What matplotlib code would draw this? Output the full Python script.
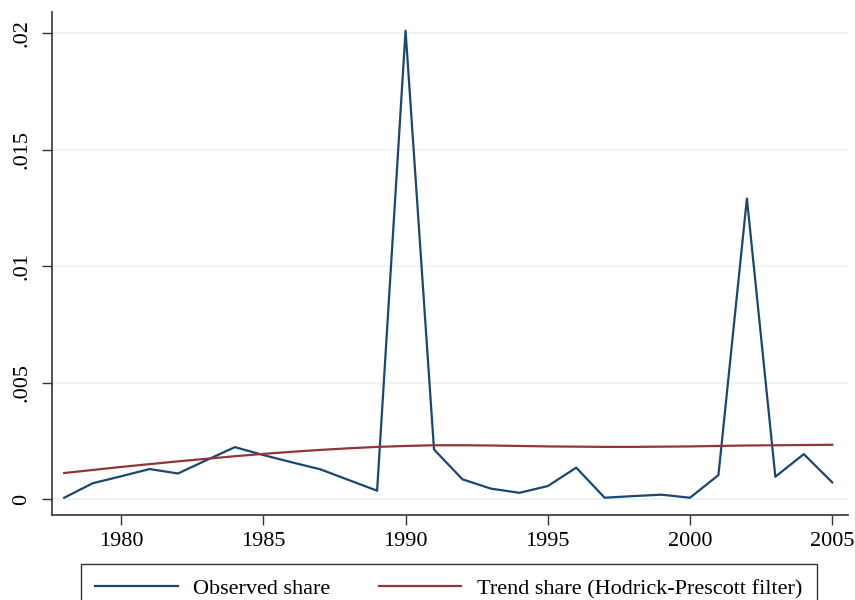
import matplotlib
matplotlib.use("Agg")
import matplotlib.pyplot as plt

plt.rcParams['font.family'] = ['Liberation Serif', 'DejaVu Serif']

years = list(range(1978, 2006))
observed = [0.00007, 0.00069, 0.00099, 0.00130, 0.00111, 0.00168, 0.00224, 0.00190,
            0.00159, 0.00129, 0.00083, 0.00037, 0.02010, 0.00214, 0.00086, 0.00046,
            0.00028, 0.00057, 0.00136, 0.00007, 0.00014, 0.00020, 0.00007, 0.00104,
            0.01290, 0.00097, 0.00194, 0.00073]
trend = [0.00113, 0.00126, 0.00139, 0.00151, 0.00163, 0.00174, 0.00185, 0.00195,
         0.00204, 0.00212, 0.00219, 0.00225, 0.00229, 0.00232, 0.00232, 0.00231,
         0.00229, 0.00227, 0.00226, 0.00225, 0.00225, 0.00226, 0.00227, 0.00229,
         0.00231, 0.00232, 0.00233, 0.00234]

xticks = [1980, 1985, 1990, 1995, 2000, 2005]
yticks = [0, 0.005, 0.01, 0.015, 0.02]
ylabels = ['0', '.005', '.01', '.015', '.02']

fig = plt.figure(figsize=(8.55, 6), dpi=100)
ax = fig.add_axes([0.0608, 0.1417, 0.9312, 0.8383])

ax.plot(years, observed, color='#1a476f', lw=1.6, label='Observed share')
ax.plot(years, trend, color='#90353b', lw=1.6, label='Trend share (Hodrick-Prescott filter)')

ax.set_xlim(1977.57, 2005.56)
ax.set_ylim(-0.00067, 0.0209)
ax.set_xticks(xticks)
ax.set_yticks(yticks)
ax.set_yticklabels(ylabels, rotation=90, va='center')
ax.tick_params(labelsize=16, length=7, width=1, color='#333333')
ax.tick_params(axis='y', pad=8)
ax.tick_params(axis='x', pad=5)

ax.grid(axis='y', color='#eaf2f3', lw=1.2)
ax.set_axisbelow(True)
for s in ['top', 'right']:
    ax.spines[s].set_visible(False)
for s in ['left', 'bottom']:
    ax.spines[s].set_color('#333333')
    ax.spines[s].set_linewidth(1.2)

# legend sits centred under the plot area
leg = fig.legend(loc='upper center', bbox_to_anchor=(0.525, 0.06), ncol=2,
                 fontsize=16, handlelength=3.7, handletextpad=0.7,
                 columnspacing=2.2, fancybox=False, edgecolor='black',
                 borderpad=0.65, borderaxespad=0)
leg.get_frame().set_linewidth(1.0)

fig.savefig('out.png', dpi=100)
